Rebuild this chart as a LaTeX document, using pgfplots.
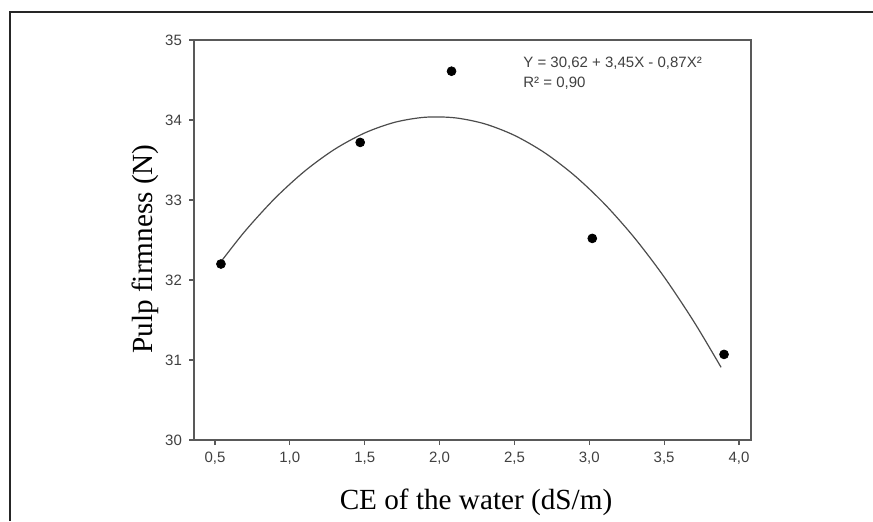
\documentclass[border=0pt]{standalone}
\usepackage{fontspec}
\setmainfont{Liberation Serif}
\newfontfamily\ticksf{Liberation Sans}
\usepackage{pgfplots}
\pgfplotsset{compat=1.18}
\begin{document}
\begin{tikzpicture}[x=0.5pt,y=0.5pt]
\useasboundingbox (0,0) rectangle (873,521);
\draw[line width=1pt, black!85] (10,0) -- (10,509) -- (873,509);
\begin{axis}[
 at={(97pt,40.5pt)}, anchor=south west, scale only axis,
 width=278.5pt, height=200pt,
 xmin=0.36, xmax=4.08, ymin=30, ymax=35,
 xtick={0.5,1.0,1.5,2.0,2.5,3.0,3.5,4.0}, ytick={30,31,32,33,34,35},
 tick align=outside, tick pos=left, major tick length=2.5pt,
 axis line style={black!65, line width=0.75pt},
 every tick/.style={black!65, line width=0.6pt},
 ticklabel style={font=\ticksf\fontsize{7.5}{9}\selectfont, text=black!75},
 /pgf/number format/assume math mode=true,
 xticklabel={\pgfmathprintnumber[fixed,fixed zerofill,precision=1,use comma]{\tick}},
 clip=false,
]
\addplot[smooth, black!70, line width=0.6pt] coordinates {
(0.53,32.204) (0.7,32.609) (0.9,33.020) (1.1,33.362) (1.3,33.635) (1.5,33.838)
(1.7,33.971) (1.9,34.034) (2.1,34.028) (2.3,33.953) (2.5,33.808) (2.7,33.593)
(2.9,33.308) (3.1,32.954) (3.3,32.531) (3.5,32.038) (3.7,31.475) (3.88,30.909)};
\addplot[only marks, mark=*, mark size=2.2pt, black] coordinates {
(0.54,32.2) (1.47,33.72) (2.08,34.61) (3.02,32.52) (3.9,31.07)};
\end{axis}
\node[anchor=base west, inner sep=0pt, font=\ticksf\fontsize{7.5}{9}\selectfont, text=black!75] at (523,453) {Y = 30,62 + 3,45X - 0,87X²};
\node[anchor=base west, inner sep=0pt, font=\ticksf\fontsize{7.5}{9}\selectfont, text=black!75] at (523,434) {R² = 0,90};
\node[anchor=base, inner sep=0pt, font=\fontsize{14.6}{17}\selectfont] at (476,12) {CE of the water (dS/m)};
\node[rotate=90, anchor=base, inner sep=0pt, font=\fontsize{14.6}{17}\selectfont] at (152,272) {Pulp firmness (N)};
\end{tikzpicture}
\end{document}
